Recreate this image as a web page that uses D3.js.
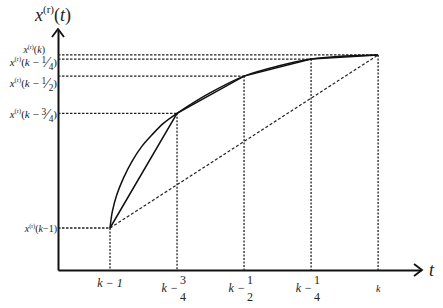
<!DOCTYPE html>
<html><head><meta charset="utf-8">
<script src="https://cdn.jsdelivr.net/npm/d3@7"></script>
<style>body{margin:0;background:#fff}svg{display:block}</style>
</head><body><svg id="c" width="443" height="308"></svg>
<script>
// Sample times (fraction of interval from k-1 to k)
const sampleT = [0, 0.25, 0.5, 0.75, 1];
// Sample values x^(r)(t) (arbitrary units)
const sampleV = [1.75, 6.53, 8.08, 8.79, 8.96];
// Tick labels on t axis: [prefix, numerator, denominator]
const tickLabels = [["k − 1", "", ""], ["k −", "3", "4"], ["k −", "1", "2"], ["k −", "1", "4"], ["k", "", ""]];
// Y labels: argument fraction [numerator, denominator]
const yLabelFrac = [["", ""], ["3", "4"], ["1", "2"], ["1", "4"], ["", ""]];
// Continuous curve x^(r)(t)
const curveT = [0, 0.0086, 0.025, 0.0496, 0.081, 0.118, 0.156, 0.199, 0.25, 0.373, 0.5, 0.627, 0.75, 0.877, 1];
const curveV = [1.75, 2.43, 3.125, 3.82, 4.51, 5.14, 5.625, 6.11, 6.53, 7.38, 8.08, 8.50, 8.79, 8.92, 8.96];

const FONT = '"Liberation Serif", "DejaVu Serif", serif';
const svg = d3.select("#c");
const x = d3.scaleLinear().domain([-0.194, 1.16]).range([58, 421]);
const y = d3.scaleLinear().domain([0, 10]).range([270, 30]);
const x0 = x(-0.194), y0 = y(0);
const txt = (sel) => sel.append("text").style("font-family", FONT).attr("fill", "#222");

// axes
svg.append("g").attr("transform", `translate(0,${y0})`)
  .call(d3.axisBottom(x).tickValues([]).tickSize(0))
  .call(g => g.select(".domain").attr("stroke", "#111").attr("stroke-width", 2));
svg.append("g").attr("transform", `translate(${x0},0)`)
  .call(d3.axisLeft(y).tickValues([]).tickSize(0))
  .call(g => g.select(".domain").attr("stroke", "#111").attr("stroke-width", 2));
// arrow heads
svg.append("path").attr("d", `M${x0-6},${y(10)+7}L${x0},${y(10)-1}L${x0+6},${y(10)+7}`)
  .attr("fill", "none").attr("stroke", "#111").attr("stroke-width", 1.8);
svg.append("path").attr("d", `M${x(1.16)-7},${y0-6}L${x(1.16)+1},${y0}L${x(1.16)-7},${y0+6}`)
  .attr("fill", "none").attr("stroke", "#111").attr("stroke-width", 1.8);

// dashed guide lines
sampleT.forEach((t, i) => {
  svg.append("line").attr("x1", x0).attr("x2", x(t)).attr("y1", y(sampleV[i])).attr("y2", y(sampleV[i]))
    .attr("stroke", "#222").attr("stroke-width", 1.3).attr("stroke-dasharray", "2.5,1.5");
  svg.append("line").attr("x1", x(t)).attr("x2", x(t)).attr("y1", y(sampleV[i])).attr("y2", y0)
    .attr("stroke", "#222").attr("stroke-width", 1.3).attr("stroke-dasharray", "2,1.5");
});
// diagonal dashed
svg.append("line").attr("x1", x(sampleT[0])).attr("y1", y(sampleV[0]))
  .attr("x2", x(sampleT[4])).attr("y2", y(sampleV[4]))
  .attr("stroke", "#222").attr("stroke-width", 1.2).attr("stroke-dasharray", "3,2");

// chords
svg.append("path").datum(sampleT.map((t, i) => [t, sampleV[i]]))
  .attr("d", d3.line().x(d => x(d[0])).y(d => y(d[1])))
  .attr("fill", "none").attr("stroke", "#111").attr("stroke-width", 1.5);
// curve
svg.append("path").datum(curveT.map((t, i) => [t, curveV[i]]))
  .attr("d", d3.line().x(d => x(d[0])).y(d => y(d[1])).curve(d3.curveCatmullRom.alpha(0.5)))
  .attr("fill", "none").attr("stroke", "#111").attr("stroke-width", 1.5);

// tick labels
tickLabels.forEach((lab, i) => {
  const cx = x(sampleT[i]);
  if (!lab[1]) {
    txt(svg).attr("x", cx).attr("y", i === 4 ? 292 : 287).attr("text-anchor", "middle")
      .attr("font-size", i === 4 ? 10 : 12).attr("font-style", "italic").text(lab[0]);
  } else {
    txt(svg).attr("x", cx + 1).attr("y", 292).attr("text-anchor", "end")
      .attr("font-size", 12).attr("font-style", "italic").text(lab[0]);
    txt(svg).attr("x", cx + 6).attr("y", 284).attr("text-anchor", "middle")
      .attr("font-size", 12).text(lab[1]);
    txt(svg).attr("x", cx + 6).attr("y", 301).attr("text-anchor", "middle")
      .attr("font-size", 12).text(lab[2]);
  }
});

// y labels
const yLabY = [232, 118, 87, 66, 53];
const yLabSize = [10, 11, 11, 11, 10];
sampleV.forEach((v, i) => {
  const fs = yLabSize[i];
  const t = txt(svg).attr("x", i === 4 ? 45 : 57).attr("y", yLabY[i]).attr("text-anchor", "end").attr("font-size", fs);
  t.append("tspan").attr("font-style", "italic").text("x");
  t.append("tspan").attr("font-size", fs * 0.6).attr("dy", -fs * 0.45).text("(r)");
  const frac = yLabelFrac[i];
  t.append("tspan").attr("dy", fs * 0.45).text("(");
  t.append("tspan").attr("font-style", "italic").text("k");
  if (i === 0) {
    t.append("tspan").text("−1)");
  } else if (i === 4) {
    t.append("tspan").text(")");
  } else {
    t.append("tspan").text(" − ");
    t.append("tspan").attr("font-size", fs * 0.85).attr("dy", -fs * 0.3).text(frac[0]);
    t.append("tspan").attr("font-size", fs * 1.4).attr("dy", fs * 0.35).text("⁄");
    t.append("tspan").attr("font-size", fs * 0.85).attr("dy", fs * 0.3).text(frac[1]);
    t.append("tspan").attr("dy", -fs * 0.35).text(")");
  }
});

// axis titles
const tt = txt(svg).attr("x", 35).attr("y", 21).attr("font-size", 18);
tt.append("tspan").attr("font-style", "italic").text("x");
tt.append("tspan").attr("font-size", 11).attr("dy", -8).text("(r)");
tt.append("tspan").attr("dy", 8).text("(");
tt.append("tspan").attr("font-style", "italic").text("t");
tt.append("tspan").text(")");
txt(svg).attr("x", 429).attr("y", 276).attr("font-size", 18).attr("font-style", "italic").text("t");
</script></body></html>
